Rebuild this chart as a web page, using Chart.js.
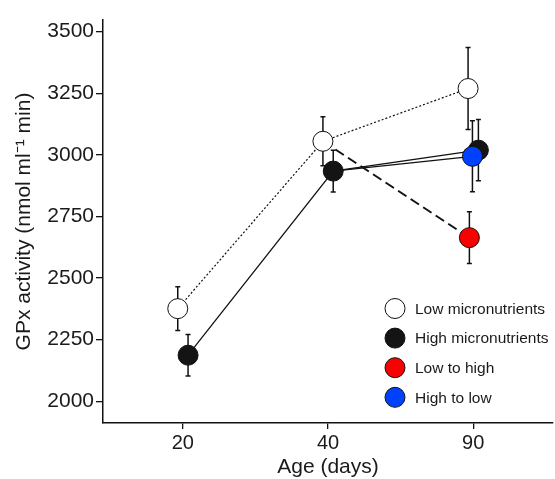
<!DOCTYPE html>
<html><head><meta charset="utf-8">
<script src="https://cdn.jsdelivr.net/npm/chart.js@4/dist/chart.umd.min.js"></script>
<style>html,body{margin:0;padding:0;background:#fff}#wrap{width:555px;height:479px}</style>
</head><body><div id="wrap"><canvas id="c" width="555" height="479"></canvas></div>
<script>
// ---- data ----
const ageLabels = ['20', '40', '90'];
const yTicks = [2000, 2250, 2500, 2750, 3000, 3250, 3500];
const seriesNames = ['Low micronutrients', 'High micronutrients', 'Low to high', 'High to low'];
const lowMean = [2376, 3055, 3269];
const lowSE = [89, 99, 166];
const highMean = [2187, 2934, 3019];
const highSE = [84, 85, 124];
const lowToHighMean = [null, null, 2664];
const lowToHighSE = [null, null, 105];
const highToLowMean = [null, null, 2994];
const highToLowSE = [null, null, 144];

// ---- presentation ----
const dodge = { low: -0.035, high: 0.036, lowToHigh: -0.026, highToLow: -0.005 };
const fills = ['#ffffff', '#141414', '#fa0000', '#0041ff'];
const FONT = '"Liberation Sans", Arial, sans-serif';
const TXT = '#1a1a1a';

function pts(arr, off) {
  const out = [];
  arr.forEach((v, i) => { if (v !== null) out.push({ x: i + off, y: v }); });
  return out;
}
// the switch groups start at day 40 from their origin group
const lowPts = pts(lowMean, dodge.low);
const highPts = pts(highMean, dodge.high);
const lthPts = pts(lowToHighMean, dodge.lowToHigh);
const htlPts = pts(highToLowMean, dodge.highToLow);
const lthLine = [lowPts[1]].concat(lthPts);
const htlLine = [highPts[1]].concat(htlPts);

const errGroups = [
  { means: lowMean, se: lowSE, off: dodge.low },
  { means: highMean, se: highSE, off: dodge.high },
  { means: lowToHighMean, se: lowToHighSE, off: dodge.lowToHigh },
  { means: highToLowMean, se: highToLowSE, off: dodge.highToLow }
];

const errorBars = {
  id: 'errorBars',
  beforeDatasetsDraw(chart) {
    const { ctx, scales: { x, y } } = chart;
    ctx.save();
    ctx.strokeStyle = '#111';
    ctx.lineWidth = 1.5;
    errGroups.forEach(g => {
      g.means.forEach((m, i) => {
        if (m === null) return;
        const px = x.getPixelForValue(i + g.off);
        const top = y.getPixelForValue(m + g.se[i]);
        const bot = y.getPixelForValue(m - g.se[i]);
        ctx.beginPath();
        ctx.moveTo(px, top); ctx.lineTo(px, bot);
        ctx.moveTo(px - 2.5, top); ctx.lineTo(px + 2.5, top);
        ctx.moveTo(px - 2.5, bot); ctx.lineTo(px + 2.5, bot);
        ctx.stroke();
      });
    });
    ctx.restore();
  }
};

const legendPlugin = {
  id: 'customLegend',
  afterDraw(chart) {
    const { ctx } = chart;
    ctx.save();
    ctx.font = '15.5px ' + FONT;
    ctx.textBaseline = 'middle';
    ctx.textAlign = 'left';
    seriesNames.forEach((name, i) => {
      const cy = 308.5 + i * 29.6;
      ctx.beginPath();
      ctx.arc(395, cy, 10, 0, Math.PI * 2);
      ctx.fillStyle = fills[i];
      ctx.fill();
      ctx.lineWidth = 1;
      ctx.strokeStyle = '#111';
      ctx.stroke();
      ctx.fillStyle = TXT;
      ctx.fillText(name, 415, cy + 1);
    });
    ctx.restore();
  }
};

function marker(data, i, order) {
  return {
    label: seriesNames[i], data, showLine: false, order,
    pointRadius: 10, pointHoverRadius: 10, pointBorderWidth: 1,
    pointBackgroundColor: fills[i], pointBorderColor: '#111'
  };
}
function line(data, width, dash, order) {
  return {
    data, showLine: true, order, pointRadius: 0, pointHoverRadius: 0,
    borderColor: '#111', borderWidth: width, borderDash: dash, fill: false, tension: 0
  };
}

new Chart(document.getElementById('c'), {
  type: 'scatter',
  data: {
    datasets: [
      marker(htlPts, 3, 1),
      marker(lthPts, 2, 2),
      marker(highPts, 1, 3),
      marker(lowPts, 0, 4),
      line(lowPts, 1.2, [2, 2], 10),
      line(highPts, 1.3, [], 11),
      line(lthLine, 2, [10, 5], 12),
      line(htlLine, 1.3, [], 13)
    ]
  },
  options: {
    responsive: false,
    devicePixelRatio: 1,
    animation: false,
    layout: { autoPadding: false, padding: { top: 20, right: 2, left: 0, bottom: 0 } },
    plugins: { legend: { display: false }, tooltip: { enabled: false } },
    scales: {
      x: {
        type: 'linear', min: -0.55, max: 2.55,
        afterBuildTicks: s => { s.ticks = ageLabels.map((_, i) => ({ value: i })); },
        afterFit: s => { s.height = 56; s.paddingLeft = 0; s.paddingRight = 0; },
        ticks: { callback: v => ageLabels[Math.round(v)], font: { size: 20, family: FONT }, color: TXT, padding: 2, maxRotation: 0 },
        grid: { display: true, drawOnChartArea: false, drawTicks: true, tickLength: 6, color: '#111', lineWidth: 1.3 },
        border: { display: true, color: '#111', width: 1.5 },
        title: { display: true, text: 'Age (days)', font: { size: 21, family: FONT }, color: TXT, padding: { top: 0, bottom: -1 } }
      },
      y: {
        type: 'linear', min: 1912, max: 3547,
        afterBuildTicks: s => { s.ticks = yTicks.map(v => ({ value: v })); },
        afterFit: s => { s.width = 103; s.paddingTop = 0; s.paddingBottom = 0; },
        ticks: { callback: v => String(v), font: { size: 21, family: FONT }, color: TXT, padding: 2 },
        grid: { display: true, drawOnChartArea: false, drawTicks: true, tickLength: 7, color: '#111', lineWidth: 1.3 },
        border: { display: true, color: '#111', width: 1.5 },
        title: { display: true, text: 'GPx activity (nmol ml\u207B\u00B9 min)', font: { size: 21, family: FONT }, color: TXT, padding: { top: 12, bottom: 0 } }
      }
    }
  },
  plugins: [errorBars, legendPlugin]
});
</script></body></html>
